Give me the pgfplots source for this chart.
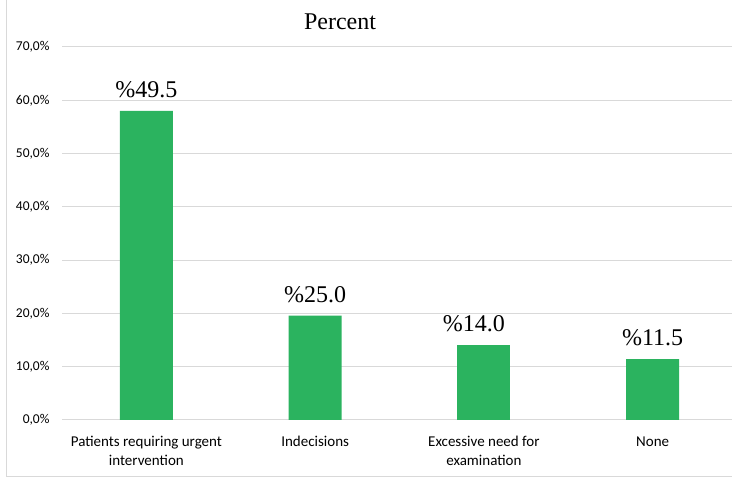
\documentclass[border=0pt]{standalone}
\usepackage{fontspec}
\setmainfont{Liberation Serif}
\newfontfamily\calibri{Carlito}
\usepackage{pgfplots}
\pgfplotsset{compat=1.18}
\definecolor{bargreen}{HTML}{2BB35F}
\definecolor{gridgray}{HTML}{D9D9D9}
\begin{document}
\begin{tikzpicture}[x=1pt,y=1pt]
\useasboundingbox (0,0) rectangle (732,478);
\draw[gridgray, line width=1pt] (6.5,478) -- (6.5,1.5) -- (732,1.5);
\node[anchor=base, font=\fontsize{24}{28}\selectfont] at (340,448) {Percent};
\begin{axis}[
  at={(62pt,58pt)}, anchor=south west,
  scale only axis, width=670pt, height=373pt,
  xmin=-0.5, xmax=3.47, ymin=0, ymax=70,
  axis line style={draw=none},
  ymajorgrids, grid style={gridgray, line width=1pt},
  major tick length=0pt,
  ytick={0,10,20,30,40,50,60,70},
  yticklabels={{0,0\%},{10,0\%},{20,0\%},{30,0\%},{40,0\%},{50,0\%},{60,0\%},{70,0\%}},
  xtick={0,1,2,3},
  xticklabels={{Patients requiring urgent\\intervention},{Indecisions},{Excessive need for\\examination},{None}},
  xticklabel style={font=\calibri\fontsize{15}{18.5}\selectfont, align=center, anchor=north, yshift=-13pt},
  yticklabel style={font=\calibri\fontsize{13.5}{15}\selectfont, anchor=east, xshift=-9pt},
  ybar, bar width=53pt, bar shift=0pt,
  nodes near coords, point meta=explicit symbolic,
  nodes near coords style={font=\fontsize{24}{28}\selectfont, anchor=south, inner sep=0pt, yshift=13pt},
  clip=false,
]
\addplot[fill=bargreen, draw=none] coordinates {(0,58.0) [\%49.5] (1,19.6) [\%25.0] (3,11.4) [\%11.5]};
\addplot[fill=bargreen, draw=none, every node near coord/.append style={xshift=-10pt}] coordinates {(2,14.1) [\%14.0]};
\end{axis}
\end{tikzpicture}
\end{document}
